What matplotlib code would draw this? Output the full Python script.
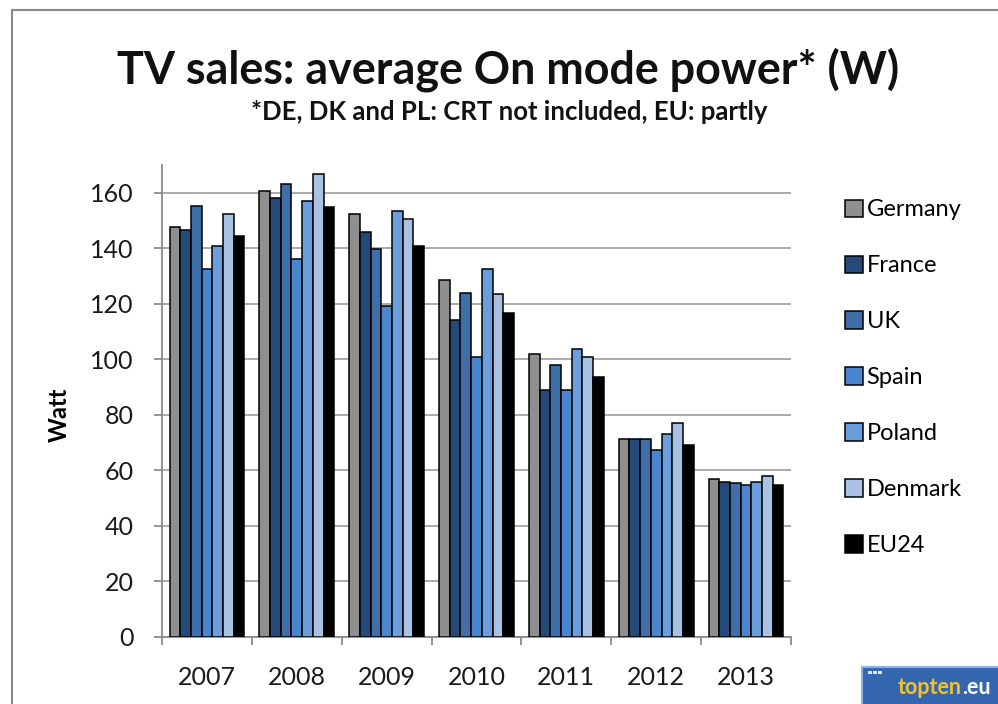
import matplotlib
matplotlib.use("Agg")
import matplotlib.pyplot as plt
import numpy as np
from matplotlib.patches import Rectangle
from matplotlib.transforms import offset_copy

years = ["2007", "2008", "2009", "2010", "2011", "2012", "2013"]
series_names = ["Germany", "France", "UK", "Spain", "Poland", "Denmark", "EU24"]
germany = [147.6, 160.8, 152.5, 128.7, 101.8, 71.2, 57.0]
france = [146.7, 158.1, 145.7, 114.3, 89.1, 71.2, 55.9]
uk = [155.1, 163.0, 139.9, 123.8, 98.1, 71.2, 55.3]
spain = [132.7, 136.0, 119.1, 100.9, 89.1, 67.5, 54.7]
poland = [140.8, 157.0, 153.3, 132.4, 103.7, 73.2, 55.9]
denmark = [152.5, 166.6, 150.4, 123.7, 100.9, 76.9, 58.0]
eu24 = [144.4, 154.8, 140.7, 116.7, 93.7, 69.1, 54.9]
series_values = [germany, france, uk, spain, poland, denmark, eu24]
colors = ["#8f8f8f", "#234a78", "#3f6fa8", "#4a86cd", "#6b9edc", "#a9c1e3", "#000000"]
yticks = [0, 20, 40, 60, 80, 100, 120, 140, 160]

FONT = "Lato"
plt.rcParams["font.family"] = [FONT, "DejaVu Sans"]

W, H = 998, 704
fig = plt.figure(figsize=(W / 100, H / 100), dpi=100)
fig.patch.set_facecolor("white")

# outer frame
fig.patches.append(Rectangle((12 / W, -0.05), 1.2, 1 - 10 / H + 0.05, transform=fig.transFigure,
                             fill=False, edgecolor="#8a8a8a", linewidth=1.5))

ax = fig.add_axes([162 / W, 1 - 637 / H, (791 - 162) / W, (637 - 165) / H])
x = np.arange(len(years))
bw = 0.119
for i, (name, vals, c) in enumerate(zip(series_names, series_values, colors)):
    ax.bar(x + (i - 3) * bw, vals, width=bw, color=c, edgecolor="black", linewidth=1.1,
           label=name, zorder=3)

ax.set_xlim(-0.5, len(years) - 0.5)
ax.set_ylim(0, 170)
ax.set_yticks(yticks)
ax.set_yticklabels([str(t) for t in yticks], fontsize=18, color="#1a1a1a")
ax.set_xticks(x)
ax.set_xticklabels(years, fontsize=18, color="#1a1a1a")
ax.set_xticks(np.arange(-0.5, len(years)), minor=True)
ax.tick_params(axis="x", which="major", length=0, pad=21)
ax.tick_params(axis="x", which="minor", length=5.5, width=1.3, color="#8a8a8a", direction="out")
ax.tick_params(axis="y", length=5.5, width=1.3, color="#8a8a8a", direction="out", pad=15)
ax.grid(axis="y", color="#a5a5a5", linewidth=1.3, zorder=0)
for s in ["top", "right"]:
    ax.spines[s].set_visible(False)
for s in ["left", "bottom"]:
    ax.spines[s].set_color("#8a8a8a")
    ax.spines[s].set_linewidth(1.3)
ax.set_ylabel("Watt", fontsize=17, fontweight="bold")
ax.yaxis.set_label_coords(-0.145, 0.47)

leg = ax.legend(loc="upper left", bbox_to_anchor=(836 / W, 1 - 190 / H), bbox_transform=fig.transFigure,
                frameon=False, fontsize=17, handlelength=0.75, handleheight=0.75,
                handletextpad=0.15, labelspacing=1.48, borderaxespad=0)

fig.text(508 / W, 1 - 70 / H, "TV sales: average On mode power* (W)", ha="center", va="center",
         fontsize=32.3, fontweight="bold", color="#111111")
fig.text(509 / W, 1 - 112 / H, "*DE, DK and PL: CRT not included, EU: partly", ha="center", va="center",
         fontsize=18.5, fontweight="bold", color="#111111")

# logo
fig.patches.append(Rectangle((862 / W, -0.01), 0.2, 37 / H + 0.01, transform=fig.transFigure,
                             facecolor="#3566b0", edgecolor="#8fb0e0", linewidth=1.5, zorder=5))
for k in range(3):
    fig.patches.append(Rectangle(((868 + k * 5) / W, 1 - 674 / H), 3.5 / W, 3 / H, transform=fig.transFigure,
                                 facecolor="#dfe8f5", edgecolor="none", zorder=6))
t1 = fig.text(898 / W, 1 - 688 / H, "topten", ha="left", va="center", fontsize=15.5, fontweight="bold",
              color="#f2c12e", zorder=6)
fig.canvas.draw()
bb = t1.get_window_extent()
fig.text(bb.x1 / W, 1 - 688 / H, ".eu", ha="left", va="center", fontsize=15.5, fontweight="bold",
         color="white", zorder=6)

fig.savefig("out.png", dpi=100)
